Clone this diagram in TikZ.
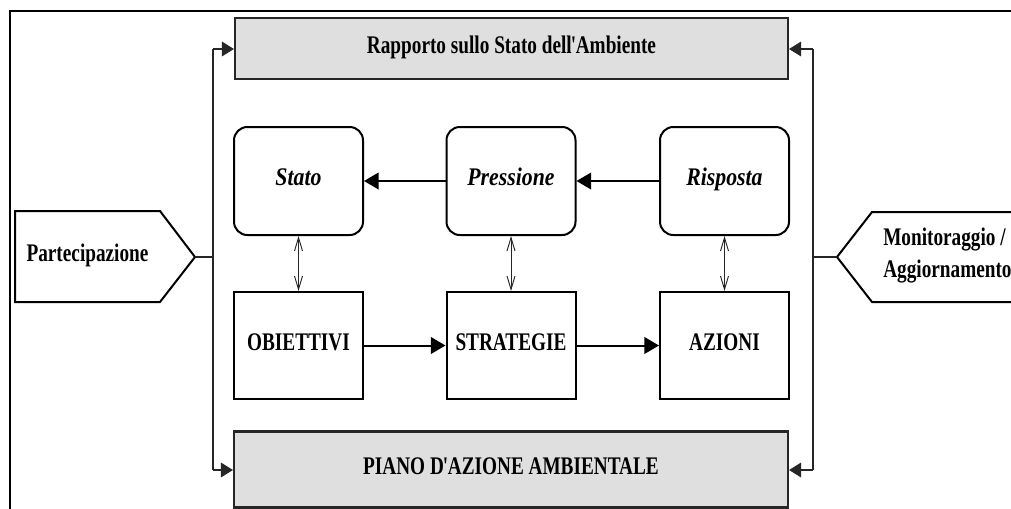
\documentclass[tikz,border=0pt]{standalone}
\usepackage{fontspec}
\setmainfont{Liberation Serif}[FakeStretch=0.76]
\newfontfamily\itfam{Liberation Serif}[FakeStretch=0.86]
\usetikzlibrary{arrows.meta}
\definecolor{boxgray}{HTML}{DFDFDF}
\newcommand\apos{\kern-0.04em\textquotesingle\kern-0.08em}
\tikzset{
  lbl/.style={font=\fontsize{19}{24}\selectfont\bfseries, text height=0.68em, text depth=0pt},
  ilbl/.style={font=\fontsize{19}{24}\selectfont\itfam\bfseries\itshape, text height=0.68em, text depth=0pt},
  graybox/.style={lbl, draw=black!85, line width=1.6pt, fill=boxgray, minimum width=#1*0.75pt},
  roundbox/.style={ilbl, draw=black, line width=1.5pt, rounded corners=10pt, fill=white,
    minimum width=129*0.75pt, minimum height=108*0.75pt},
  sqbox/.style={lbl, draw=black, line width=1.5pt, fill=white,
    minimum width=129*0.75pt, minimum height=107*0.75pt},
  flow/.style={line width=1.5pt, -{Triangle[length=11pt,width=12.5pt]}},
  dbl/.style={line width=0.7pt, black!85, {Straight Barb[length=10pt,width=6pt]}-{Straight Barb[length=10pt,width=6pt]}},
  bus/.style={line width=0.8pt, black!85},
  busarrow/.style={bus, -{Triangle[length=9pt,width=11pt]}},
  tag/.style={draw=black, line width=1.5pt, fill=white, line join=miter}
}
\begin{document}
\begin{tikzpicture}[x=0.75pt,y=-0.75pt]
\clip (0,0) rectangle (1011,508);
\fill[white] (0,0) rectangle (1011,508);
% outer frame (cropped)
\draw[line width=2pt] (10,11) rectangle (1060,560);

% report / plan boxes
\node[graybox=553, minimum height=61*0.75pt] (rsa) at (511.5,48.5) {Rapporto sullo Stato dell\apos Ambiente};
\node[graybox=554, minimum height=76*0.75pt] (paa) at (511,469.5) {PIANO D\apos AZIONE AMBIENTALE};

% PSR row
\node[roundbox] (stato) at (298.5,181) {Stato};
\node[roundbox] (press) at (511,181) {Pressione};
\node[roundbox] (risp) at (724.5,181) {Risposta};

% lower row
\node[sqbox] (obi) at (298.5,345.5) {OBIETTIVI};
\node[sqbox] (str) at (511,345.5) {STRATEGIE};
\node[sqbox] (azi) at (724.5,345.5) {AZIONI};

\draw[flow] (risp) -- (press);
\draw[flow] (press) -- (stato);
\draw[flow] (obi) -- (str);
\draw[flow] (str) -- (azi);

\draw[dbl] (stato.south) -- (obi.north);
\draw[dbl] (press.south) -- (str.north);
\draw[dbl] (risp.south) -- (azi.north);

% left tag
\draw[tag] (15,211) -- (160,211) -- (195,257) -- (160,302) -- (15,302) -- cycle;
\coordinate (ptip) at (195,257);
\node[lbl] (part) at (87.5,256.5) {Partecipazione};

% right tag
\draw[tag] (1030,212) -- (872,212) -- (837,257) -- (872,302) -- (1030,302);
\coordinate (mtip) at (837,257);
\node[font=\fontsize{19}{24}\selectfont\bfseries, align=left, inner sep=0pt, anchor=north west] (mon) at (883,228) {Monitoraggio /\\Aggiornamento};

% left bus
\coordinate (lt) at (213,49);
\coordinate (lb) at (213,470);
\draw[bus] (lt) -- (lb);
\draw[bus] (ptip) -- (ptip -| lt);
\draw[busarrow] (lt) -- (lt -| rsa.west);
\draw[busarrow] (lb) -- (lb -| paa.west);

% right bus
\coordinate (rt) at (813,49);
\coordinate (rb) at (813,470);
\draw[bus] (rt) -- (rb);
\draw[bus] (mtip) -- (mtip -| rt);
\draw[busarrow] (rt) -- (rt -| rsa.east);
\draw[busarrow] (rb) -- (rb -| paa.east);
\end{tikzpicture}
\end{document}
